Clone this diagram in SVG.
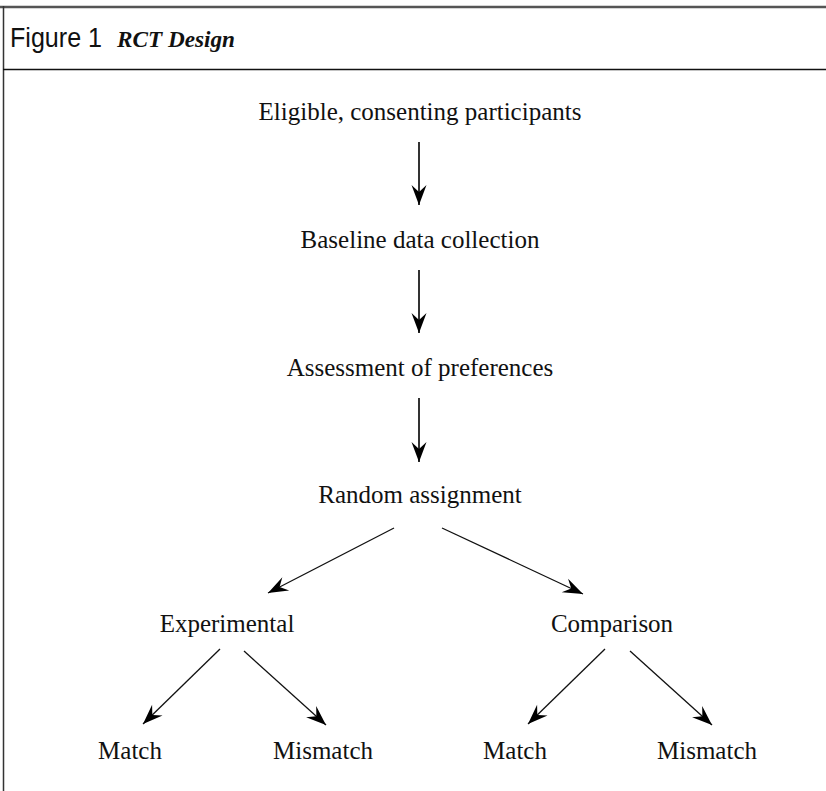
<svg xmlns="http://www.w3.org/2000/svg" width="826" height="791" viewBox="0 0 826 791">
<defs>
<style>
.t{font-family:"Liberation Serif","Times New Roman",serif;font-size:25px;fill:#111;text-anchor:middle}
.v{stroke:#333;stroke-width:2;fill:none}
.d{stroke:#111;stroke-width:1.3;fill:none}
</style>
<marker id="ah" markerUnits="userSpaceOnUse" markerWidth="24" markerHeight="18" viewBox="-22 -9 24 18" refX="0" refY="0" orient="auto">
<path d="M0,0 L-20,-7.5 L-13,0 L-20,7.5 Z" fill="#000"/>
</marker>
</defs>
<rect width="826" height="791" fill="#fff"/>
<g id="frame">
<line x1="0" y1="7" x2="826" y2="7" stroke="#555" stroke-width="2.5"/>
<line x1="3.5" y1="6" x2="3.5" y2="791" stroke="#333" stroke-width="1.5"/>
<line x1="3" y1="69.5" x2="826" y2="69.5" stroke="#111" stroke-width="1.5"/>
</g>
<g id="title">
<text x="10" y="47" font-family="'Liberation Sans','Open Sans',sans-serif" font-size="27" fill="#111" textLength="92" lengthAdjust="spacingAndGlyphs">Figure 1</text>
<text x="117" y="47" font-family="'Liberation Serif','Times New Roman',serif" font-size="24" font-style="italic" font-weight="bold" fill="#111" textLength="118" lengthAdjust="spacingAndGlyphs">RCT Design</text>
</g>
<g id="n1"><text class="t" x="420" y="120">Eligible, consenting participants</text></g>
<g id="n2"><text class="t" x="420" y="248">Baseline data collection</text></g>
<g id="n3"><text class="t" x="420" y="376">Assessment of preferences</text></g>
<g id="n4"><text class="t" x="420" y="503">Random assignment</text></g>
<g id="n5"><text class="t" x="227" y="632">Experimental</text></g>
<g id="n6"><text class="t" x="612" y="632">Comparison</text></g>
<g id="n7"><text class="t" x="130" y="759">Match</text></g>
<g id="n8"><text class="t" x="323" y="759">Mismatch</text></g>
<g id="n9"><text class="t" x="515" y="759">Match</text></g>
<g id="n10"><text class="t" x="707" y="759">Mismatch</text></g>
<g id="connectors">
<line class="v" x1="419" y1="142" x2="419" y2="205" marker-end="url(#ah)"/>
<line class="v" x1="419" y1="270" x2="419" y2="333" marker-end="url(#ah)"/>
<line class="v" x1="419" y1="398" x2="419" y2="462" marker-end="url(#ah)"/>
<line class="d" x1="394" y1="528" x2="268" y2="593" marker-end="url(#ah)"/>
<line class="d" x1="442" y1="528" x2="583" y2="594" marker-end="url(#ah)"/>
<line class="d" x1="220" y1="649" x2="143" y2="724" marker-end="url(#ah)"/>
<line class="d" x1="244" y1="651" x2="326" y2="725" marker-end="url(#ah)"/>
<line class="d" x1="605" y1="649" x2="528" y2="724" marker-end="url(#ah)"/>
<line class="d" x1="630" y1="651" x2="712" y2="725" marker-end="url(#ah)"/>
</g>
</svg>
